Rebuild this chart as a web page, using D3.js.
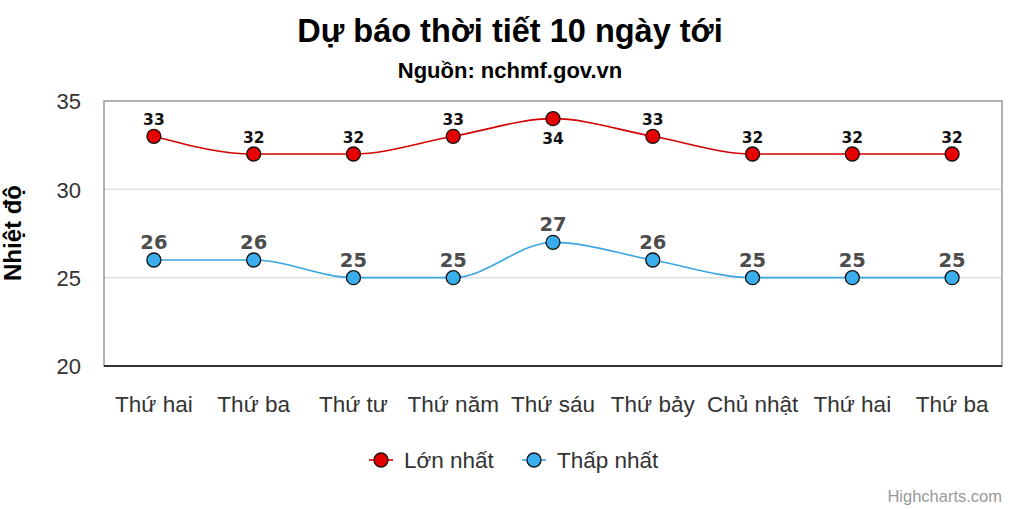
<!DOCTYPE html>
<html><head><meta charset="utf-8">
<script src="https://cdn.jsdelivr.net/npm/d3@7"></script>
<style>body{margin:0;background:#fff}svg{display:block;font-family:"Liberation Sans",Arial,sans-serif}</style>
</head><body><svg id="c" width="1020" height="510"></svg>
<script>
const categories = ["Thứ hai","Thứ ba","Thứ tư","Thứ năm","Thứ sáu","Thứ bảy","Chủ nhật","Thứ hai","Thứ ba"];
const maxTemps = [33,32,32,33,34,33,32,32,32];
const minTemps = [26,26,25,25,27,26,25,25,25];
const yTicks = [20,25,30,35];
const seriesNames = ["Lớn nhất","Thấp nhất"];

const svg = d3.select("#c");
const L=104, R=1002, T=101, B=366;
const x = d3.scaleBand().domain(d3.range(categories.length)).range([L,R]);
const y = d3.scaleLinear().domain([20,35]).range([B,T]);
const cx = i => x(i)+x.bandwidth()/2;

svg.append("text").attr("x",510).attr("y",42).attr("text-anchor","middle")
  .attr("font-size",32.5).attr("font-weight","bold").attr("fill","#000").text("Dự báo thời tiết 10 ngày tới");
svg.append("text").attr("x",510).attr("y",78).attr("text-anchor","middle")
  .attr("font-size",22).attr("font-weight","bold").attr("fill","#000").text("Nguồn: nchmf.gov.vn");

// grid
svg.append("g").selectAll("line").data(yTicks.filter(t=>t>20&&t<35)).join("line")
  .attr("x1",L).attr("x2",R).attr("y1",d=>y(d)).attr("y2",d=>y(d)).attr("stroke","#e0e0e0").attr("stroke-width",1.5);
// border
svg.append("rect").attr("x",L).attr("y",T).attr("width",R-L).attr("height",B-T)
  .attr("fill","none").attr("stroke","#999").attr("stroke-width",1.5);
svg.append("line").attr("x1",L).attr("x2",R).attr("y1",B).attr("y2",B).attr("stroke","#333").attr("stroke-width",2);

// y axis
const ya = svg.append("g").attr("transform",`translate(${L-23},0)`)
  .call(d3.axisLeft(y).tickValues(yTicks).tickSize(0).tickPadding(0));
ya.select(".domain").remove();
ya.selectAll("text").attr("font-size",22).attr("fill","#333").attr("font-family","Liberation Sans, Arial, sans-serif").attr("dy","0.35em");
svg.append("text").attr("transform",`translate(21,${233}) rotate(-90)`).attr("text-anchor","middle")
  .attr("font-size",24).attr("font-weight","bold").attr("fill","#000").text("Nhiệt độ");

// x axis
const xa = svg.append("g").attr("transform",`translate(0,${B})`)
  .call(d3.axisBottom(x).tickFormat(i=>categories[i]).tickSize(0).tickPadding(0));
xa.select(".domain").remove();
xa.selectAll("text").attr("font-size",22.5).attr("fill","#333").attr("font-family","Liberation Sans, Arial, sans-serif").attr("dy","46");

const series = [
  {name:seriesNames[0], data:maxTemps, line:"#d40000", fill:"#e60000", label:"#111", lsize:15.5},
  {name:seriesNames[1], data:minTemps, line:"#3aa6e0", fill:"#3aadec", label:"#4d4d4d", lsize:19.5}
];
const line = d3.line().x((d,i)=>cx(i)).y(d=>y(d)).curve(d3.curveMonotoneX);
series.forEach(s=>{
  const g = svg.append("g");
  g.append("path").attr("d",line(s.data)).attr("fill","none").attr("stroke",s.line).attr("stroke-width",1.6);
  g.selectAll("circle").data(s.data).join("circle").attr("cx",(d,i)=>cx(i)).attr("cy",d=>y(d)).attr("r",7)
    .attr("fill",s.fill).attr("stroke","#111").attr("stroke-width",1.3);
  g.selectAll("text").data(s.data).join("text").attr("x",(d,i)=>cx(i))
    .attr("y",d=>{const py=y(d); const ty=py-11; return (ty - s.lsize*0.75 < T) ? py+25 : ty;})
    .attr("text-anchor","middle").attr("font-family","DejaVu Sans, Verdana, sans-serif")
    .attr("font-size",s.lsize).attr("font-weight","bold").attr("fill",s.label).text(d=>d);
});

// legend
const leg = [{x:369,tx:404},{x:522,tx:557}];
series.forEach((s,k)=>{
  const lx=leg[k].x, ly=460;
  svg.append("line").attr("x1",lx).attr("x2",lx+24).attr("y1",ly).attr("y2",ly).attr("stroke",s.line).attr("stroke-width",1.6);
  svg.append("circle").attr("cx",lx+12).attr("cy",ly).attr("r",7).attr("fill",s.fill).attr("stroke","#111").attr("stroke-width",1.3);
  svg.append("text").attr("x",leg[k].tx).attr("y",ly+8).attr("font-size",22.5).attr("fill","#333").text(s.name);
});

svg.append("text").attr("x",1002).attr("y",502).attr("text-anchor","end").attr("font-size",16.5).attr("fill","#999").text("Highcharts.com");
</script></body></html>
